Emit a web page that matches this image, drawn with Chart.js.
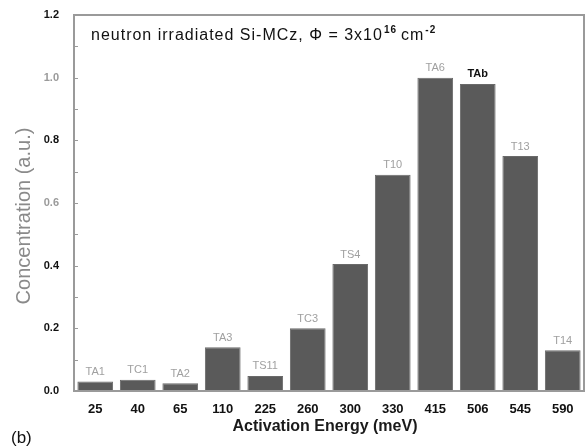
<!DOCTYPE html>
<html>
<head>
<meta charset="utf-8">
<script src="https://cdn.jsdelivr.net/npm/chart.js@4/dist/chart.umd.min.js"></script>
<style>
  html, body { margin: 0; padding: 0; background: #fff; }
  #wrap { width: 585px; height: 447px; }
</style>
</head>
<body>
<div id="wrap"><canvas id="defectChart" width="585" height="447"></canvas></div>
<script>
const energies = ['25', '40', '65', '110', '225', '260', '300', '330', '415', '506', '545', '590']
const concentration = [0.03, 0.036, 0.025, 0.14, 0.048, 0.2, 0.405, 0.69, 1.0, 0.98, 0.75, 0.13]
const levelNames = ['TA1', 'TC1', 'TA2', 'TA3', 'TS11', 'TC3', 'TS4', 'T10', 'TA6', 'TAb', 'T13', 'T14']
const yTicks = [0.0, 0.2, 0.4, 0.6, 0.8, 1.0, 1.2]

const FONT = '"Liberation Sans", Arial, sans-serif'

// frame, inward ticks, labels above bars, axis titles and panel letter
const decorations = {
    id: 'decorations',
    afterDraw(chart) {
        const ctx = chart.ctx
        const area = chart.chartArea
        const yScale = chart.scales.y
        ctx.save()

        // frame around plot
        ctx.strokeStyle = '#9a9a9a'
        ctx.lineWidth = 2
        ctx.strokeRect(area.left, area.top, area.right - area.left, area.bottom - area.top)

        // minor + major ticks pointing inside
        ctx.lineWidth = 1
        for (let v = 0.1; v < 1.2; v += 0.1) {
            const y = Math.round(yScale.getPixelForValue(v)) + 0.5
            ctx.beginPath()
            ctx.moveTo(area.left, y)
            ctx.lineTo(area.left + 4, y)
            ctx.stroke()
        }

        // defect names above bars
        const meta = chart.getDatasetMeta(0)
        ctx.textAlign = 'center'
        ctx.textBaseline = 'bottom'
        meta.data.forEach((bar, i) => {
            const dark = levelNames[i] === 'TAb'
            ctx.font = (dark ? 'bold ' : '') + '11px ' + FONT
            ctx.fillStyle = dark ? '#111' : '#a0a0a0'
            ctx.fillText(levelNames[i], bar.x, bar.y - 4)
        })

        // annotation inside plot
        ctx.fillStyle = '#111'
        ctx.textAlign = 'left'
        ctx.textBaseline = 'alphabetic'
        ctx.letterSpacing = '1px'
        ctx.font = '16px ' + FONT
        let x = area.left + 17
        const y0 = area.top + 25
        const base = 'neutron irradiated Si-MCz, \u03A6 = 3x10'
        ctx.fillText(base, x, y0)
        x += ctx.measureText(base).width
        ctx.font = 'bold 10px ' + FONT
        ctx.fillText('16', x + 1, y0 - 7)
        x += ctx.measureText('16').width + 5
        ctx.font = '16px ' + FONT
        ctx.fillText('cm', x, y0)
        x += ctx.measureText('cm').width
        ctx.font = 'bold 10px ' + FONT
        ctx.fillText('-2', x + 1, y0 - 7)
        ctx.letterSpacing = '0px'

        // axis titles
        ctx.textAlign = 'center'
        ctx.textBaseline = 'middle'
        ctx.font = 'bold 16px ' + FONT
        ctx.fillStyle = '#1a1a1a'
        ctx.fillText('Activation Energy (meV)', (area.left + area.right) / 2 - 4, area.bottom + 36)

        ctx.save()
        ctx.translate(24, (area.top + area.bottom) / 2 + 13)
        ctx.rotate(-Math.PI / 2)
        ctx.font = '20px ' + FONT
        ctx.fillStyle = '#8a8a8a'
        ctx.fillText('Concentration (a.u.)', 0, 0)
        ctx.restore()

        // panel letter
        ctx.textAlign = 'left'
        ctx.textBaseline = 'alphabetic'
        ctx.fillStyle = '#111'
        ctx.font = '17px ' + FONT
        ctx.fillText('(b)', 11, 443)
        ctx.restore()
    }
}

new Chart(document.getElementById('defectChart'), {
    type: 'bar',
    data: {
        labels: energies,
        datasets: [{
            data: concentration,
            backgroundColor: '#5a5a5a',
            borderColor: '#6a6a6a',
            borderWidth: 1,
            categoryPercentage: 1.0,
            barPercentage: 0.84
        }]
    },
    options: {
        responsive: false,
        animation: false,
        layout: { padding: { top: 15, right: 1, left: 0, bottom: 0 } },
        plugins: {
            legend: { display: false },
            tooltip: { enabled: false }
        },
        scales: {
            x: {
                grid: { display: false, drawTicks: false },
                border: { display: false },
                ticks: {
                    color: '#111',
                    padding: 11,
                    font: { size: 13, weight: 'bold', family: FONT }
                },
                afterFit(scale) { scale.height = 56 }
            },
            y: {
                min: 0,
                max: 1.2,
                afterBuildTicks(scale) { scale.ticks = yTicks.map(v => ({ value: v })) },
                grid: { display: false, drawTicks: false },
                border: { display: false },
                ticks: {
                    padding: 15,
                    color: ctx => [1.0, 0.6].includes(ctx.tick.value) ? '#9a9a9a' : '#111',
                    font: { size: 11, weight: 'bold', family: FONT },
                    callback: v => v.toFixed(1)
                },
                afterFit(scale) {
                    scale.width = 74
                    scale.paddingTop = 0
                    scale.paddingBottom = 0
                }
            }
        }
    },
    plugins: [decorations]
})
</script>
</body>
</html>
